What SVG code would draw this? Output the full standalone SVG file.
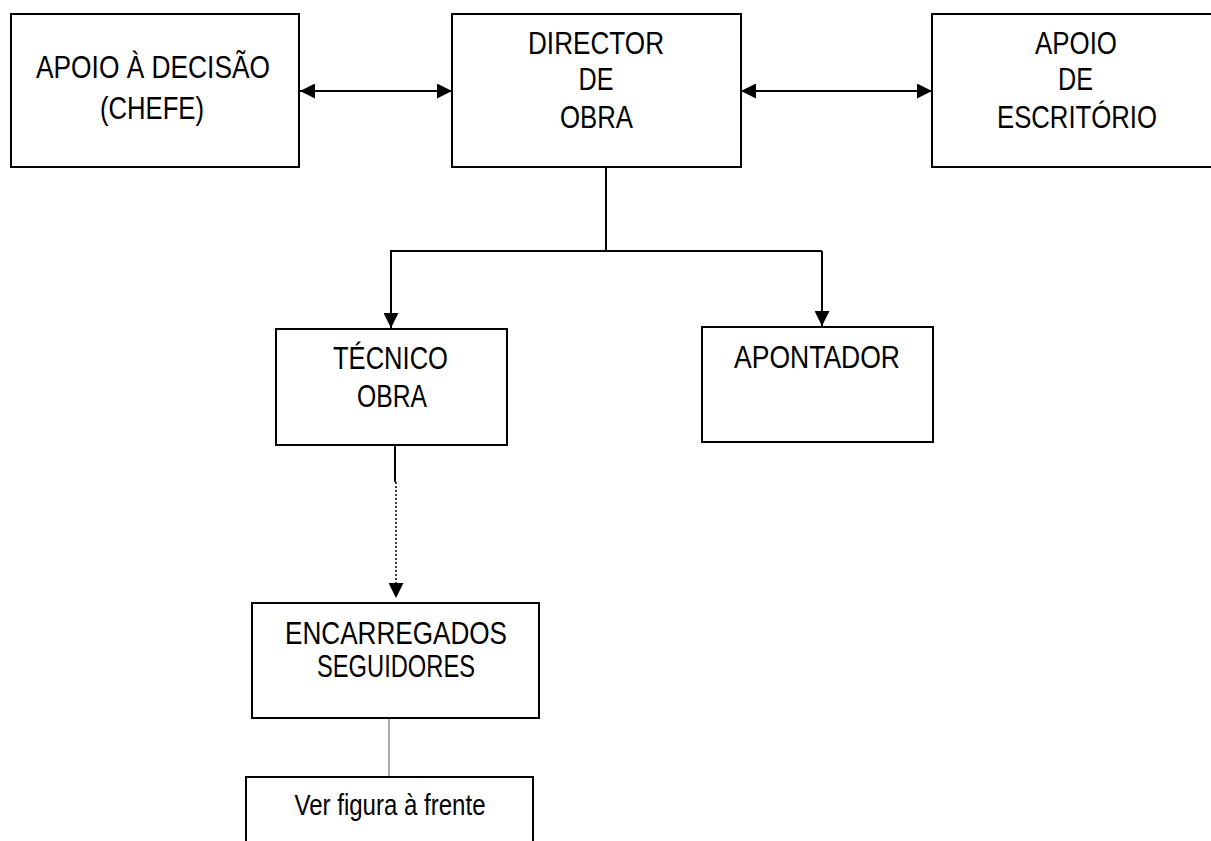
<svg xmlns="http://www.w3.org/2000/svg" width="1211" height="841" viewBox="0 0 1211 841">
  <style>
    .box { fill: #ffffff; stroke: #000000; stroke-width: 2; }
    .lbl { font-family: "Liberation Sans", Arial, sans-serif; font-size: 32px; fill: #000000; text-anchor: middle; }
    .sm { font-size: 29px; }
    .wire { fill: none; stroke: #000000; stroke-width: 2; }
    .dot { fill: none; stroke: #000000; stroke-width: 1.5; stroke-dasharray: 2 2; }
    .thin { fill: none; stroke: #555555; stroke-width: 1; }
  </style>
  <defs>
    <marker id="head" viewBox="0 0 10 10" refX="10" refY="5" markerWidth="15" markerHeight="15" markerUnits="userSpaceOnUse" orient="auto-start-reverse">
      <path d="M0,0 L10,5 L0,10 Z" fill="#000000"/>
    </marker>
  </defs>

  <rect width="1211" height="841" fill="#ffffff"/>

  <!-- connectors -->
  <g id="connectors">
    <line class="wire" x1="300" y1="91" x2="452" y2="91" marker-start="url(#head)" marker-end="url(#head)"/>
    <line class="wire" x1="741" y1="91" x2="932" y2="91" marker-start="url(#head)" marker-end="url(#head)"/>
    <path class="wire" d="M606,167 V251 M390,251 H822"/>
    <line class="wire" x1="391" y1="251" x2="391" y2="328" marker-end="url(#head)"/>
    <line class="wire" x1="822" y1="251" x2="822" y2="326" marker-end="url(#head)"/>
    <line class="wire" x1="395" y1="445" x2="395" y2="482"/>
    <line class="dot" x1="396" y1="482" x2="396" y2="598" marker-end="url(#head)"/>
    <line class="thin" x1="389" y1="718" x2="389" y2="777"/>
  </g>

  <!-- nodes -->
  <g id="apoio-decisao">
    <rect class="box" x="11" y="14" width="288" height="153"/>
    <text class="lbl" x="153" y="78" textLength="234" lengthAdjust="spacingAndGlyphs">APOIO À DECISÃO</text>
    <text class="lbl" x="152" y="119" textLength="104" lengthAdjust="spacingAndGlyphs">(CHEFE)</text>
  </g>

  <g id="director-obra">
    <rect class="box" x="452" y="14" width="289" height="153"/>
    <text class="lbl" x="596" y="54" textLength="136" lengthAdjust="spacingAndGlyphs">DIRECTOR</text>
    <text class="lbl" x="596" y="90" textLength="35" lengthAdjust="spacingAndGlyphs">DE</text>
    <text class="lbl" x="596.5" y="128" textLength="73" lengthAdjust="spacingAndGlyphs">OBRA</text>
  </g>

  <g id="apoio-escritorio">
    <rect class="box" x="932" y="14" width="290" height="153"/>
    <text class="lbl" x="1076" y="54" textLength="82" lengthAdjust="spacingAndGlyphs">APOIO</text>
    <text class="lbl" x="1075.5" y="90" textLength="35" lengthAdjust="spacingAndGlyphs">DE</text>
    <text class="lbl" x="1077" y="128" textLength="160" lengthAdjust="spacingAndGlyphs">ESCRITÓRIO</text>
  </g>

  <g id="tecnico-obra">
    <rect class="box" x="276" y="329" width="231" height="116"/>
    <text class="lbl" x="390.5" y="369" textLength="115" lengthAdjust="spacingAndGlyphs">TÉCNICO</text>
    <text class="lbl" x="392" y="407" textLength="70" lengthAdjust="spacingAndGlyphs">OBRA</text>
  </g>

  <g id="apontador">
    <rect class="box" x="702" y="327" width="231" height="115"/>
    <text class="lbl" x="817" y="368" textLength="166" lengthAdjust="spacingAndGlyphs">APONTADOR</text>
  </g>

  <g id="encarregados">
    <rect class="box" x="252" y="603" width="287" height="115"/>
    <text class="lbl" x="396" y="644" textLength="222" lengthAdjust="spacingAndGlyphs">ENCARREGADOS</text>
    <text class="lbl" x="396" y="677" textLength="158" lengthAdjust="spacingAndGlyphs">SEGUIDORES</text>
  </g>

  <g id="ver-figura">
    <path class="box" d="M246,850 V777 H533 V850"/>
    <text class="lbl sm" x="390" y="815" textLength="191" lengthAdjust="spacingAndGlyphs">Ver figura à frente</text>
  </g>
</svg>
